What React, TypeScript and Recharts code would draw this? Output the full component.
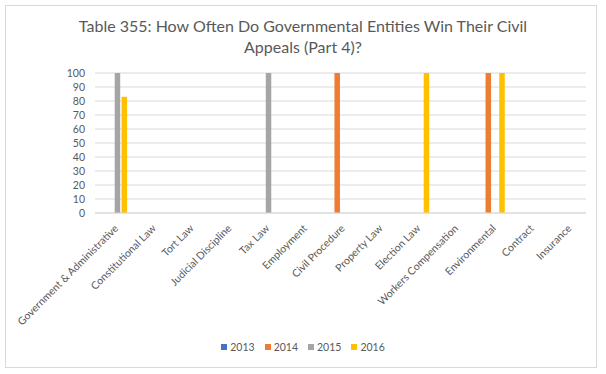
import React from "react";
import { Bar, BarChart, CartesianGrid, XAxis, YAxis } from "recharts";

const categories = [
  "Government & Administrative",
  "Constitutional Law",
  "Tort Law",
  "Judicial Discipline",
  "Tax Law",
  "Employment",
  "Civil Procedure",
  "Property Law",
  "Election Law",
  "Workers Compensation",
  "Environmental",
  "Contract",
  "Insurance",
];

// null = no bar for that year
const y2013: (number | null)[] = [null, null, null, null, null, null, null, null, null, null, null, null, null];
const y2014: (number | null)[] = [null, null, null, null, null, null, 100, null, null, null, 100, null, null];
const y2015: (number | null)[] = [100, null, null, null, 100, null, null, null, null, null, null, null, null];
const y2016: (number | null)[] = [83, null, null, null, null, null, null, null, 100, null, 100, null, null];

const yTicks = [0, 10, 20, 30, 40, 50, 60, 70, 80, 90, 100];

const SERIES = [
  { key: "2013", values: y2013, color: "#4472C4" },
  { key: "2014", values: y2014, color: "#ED7D31" },
  { key: "2015", values: y2015, color: "#A5A5A5" },
  { key: "2016", values: y2016, color: "#FFC000" },
];

const FONT = "Lato, 'Liberation Sans', sans-serif";
const TEXT = "#595959";

const chartData = categories.map((name, i) => {
  const row: any = { name };
  SERIES.forEach((s) => {
    row[s.key] = s.values[i];
  });
  return row;
});

function SlantTick(props: any) {
  const { x, y, payload } = props;
  return (
    <g transform={`translate(${x + 5},${y + 8})`}>
      <text
        transform="rotate(-45)"
        textAnchor="end"
        fill={TEXT}
        fontSize={10.5}
        fontFamily={FONT}
      >
        {payload.value}
      </text>
    </g>
  );
}

export default function App() {
  return (
    <div style={{ position: "absolute", left: 0, top: 0, width: 606, height: 374, background: "#fff" }}>
      <div
        style={{
          position: "absolute",
          left: 5,
          top: 5,
          width: 590,
          height: 361,
          border: "1px solid #d9d9d9",
        }}
      />
      <div
        style={{
          position: "absolute",
          left: 0,
          top: 15,
          width: 606,
          textAlign: "center",
          fontFamily: FONT,
          fontSize: 16,
          lineHeight: "21px",
          color: TEXT,
        }}
      >
        Table 355: How Often Do Governmental Entities Win Their Civil
        <br />
        Appeals (Part 4)?
      </div>

      <div style={{ position: "absolute", left: 0, top: 0 }}>
        <BarChart
          width={606}
          height={374}
          data={chartData}
          margin={{ top: 73, right: 20, left: 0, bottom: 0 }}
          barSize={5.5}
          barGap={1.35}
        >
          <CartesianGrid vertical={false} stroke="#d9d9d9" />
          <XAxis
            dataKey="name"
            interval={0}
            height={161}
            tickLine={false}
            axisLine={{ stroke: "#d9d9d9" }}
            tick={<SlantTick />}
          />
          <YAxis
            width={95}
            domain={[0, 100]}
            ticks={yTicks}
            interval={0}
            axisLine={false}
            tickLine={false}
            tickMargin={4}
            tick={{ fill: TEXT, fontSize: 10.5, fontFamily: FONT }}
          />
          {SERIES.map((s) => (
            <Bar key={s.key} dataKey={s.key} fill={s.color} isAnimationActive={false} />
          ))}
        </BarChart>
      </div>

      <div
        style={{
          position: "absolute",
          left: 0,
          top: 341,
          width: 606,
          display: "flex",
          justifyContent: "center",
          fontFamily: FONT,
          fontSize: 10.5,
          color: TEXT,
        }}
      >
        {SERIES.map((s) => (
          <div key={s.key} style={{ display: "flex", alignItems: "center", margin: "0 5px" }}>
            <span style={{ width: 6, height: 6, background: s.color, marginRight: 3 }} />
            <span>{s.key}</span>
          </div>
        ))}
      </div>
    </div>
  );
}
